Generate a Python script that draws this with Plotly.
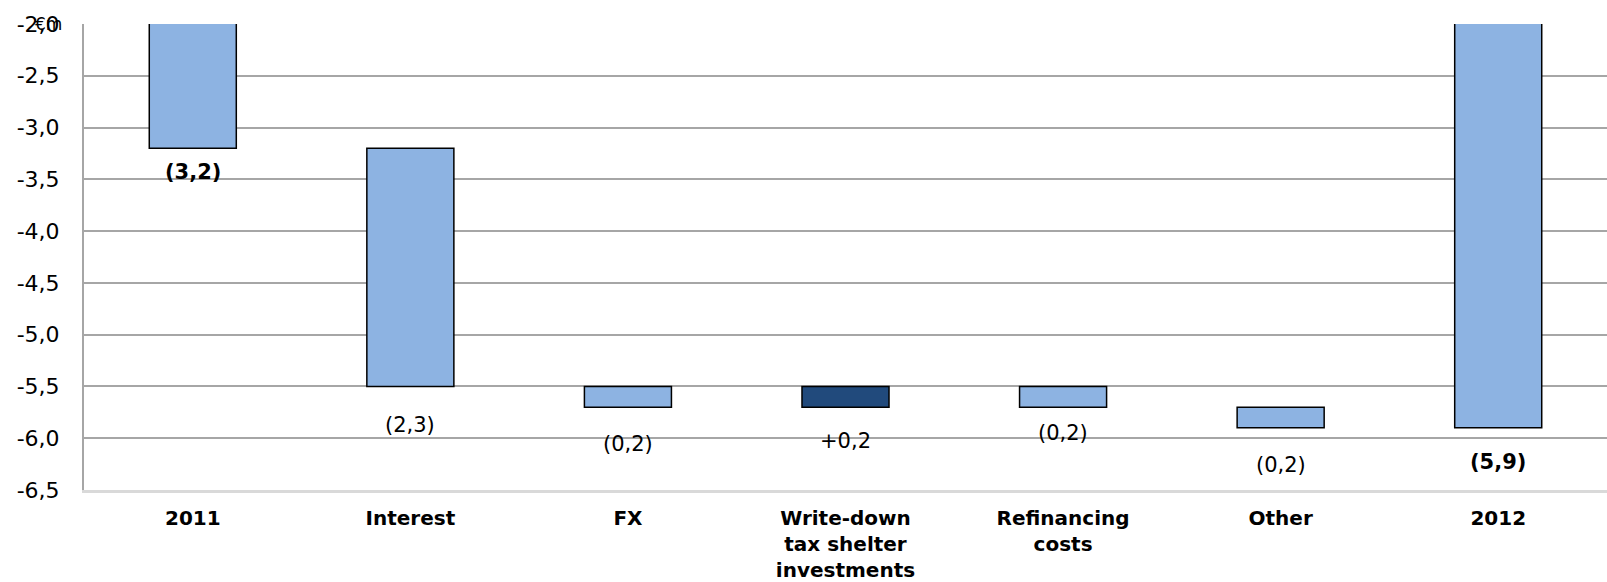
import plotly.graph_objects as go

# Net financial result bridge, 2011 -> 2012 (€m)
categories = ["2011", "Interest", "FX", "Write-down<br>tax shelter<br>investments",
              "Refinancing<br>costs", "Other", "2012"]
measures = ["absolute", "relative", "relative", "relative", "relative", "relative", "total"]
values = [-3.2, -2.3, -0.2, 0.2, -0.2, -0.2, -5.9]
value_labels = ["(3,2)", "(2,3)", "(0,2)", "+0,2", "(0,2)", "(0,2)", "(5,9)"]
tick_values = [-6.5, -6.0, -5.5, -5.0, -4.5, -4.0, -3.5, -3.0, -2.5, -2.0]
tick_labels = ["-6,5", "-6,0", "-5,5", "-5,0", "-4,5", "-4,0", "-3,5", "-3,0", "-2,5", "-2,0"]

# styling
LIGHT = "#8DB3E2"
DARK = "#214A7C"
FONT = "DejaVu Sans"
label_drop = [24, 39, 37, 34, 26, 37, 34]   # px below each bar's lower edge
bold_labels = {"2011", "2012"}

# bar extents built from the running total
bases, heights, colors = [], [], []
running = 0.0
for m, v in zip(measures, values):
    if m == "absolute":
        bases.append(0.0)
        heights.append(v)
        running = v
    elif m == "total":
        bases.append(0.0)
        heights.append(running)
    else:
        bases.append(running)
        heights.append(v)
        running += v
    colors.append(DARK if (m == "relative" and v > 0) else LIGHT)

fig = go.Figure(go.Bar(
    x=categories, y=heights, base=bases, width=0.4,
    marker=dict(color=colors, line=dict(color="#000000", width=1.5)),
    hoverinfo="skip",
))

annotations = []
for i, (cat, b, h, txt, drop) in enumerate(zip(categories, bases, heights, value_labels, label_drop)):
    low = min(b, b + h)
    bold = cat in bold_labels
    annotations.append(dict(
        x=i, y=low, xref="x", yref="y", text=f"<b>{txt}</b>" if bold else txt,
        showarrow=False, yanchor="middle", yshift=-drop,
        font=dict(family=FONT, size=21, color="#000000"),
    ))
annotations.append(dict(
    x=0, y=-2.0, xref="paper", yref="y", text="€m", showarrow=False,
    xanchor="center", yanchor="middle", xshift=-36,
    font=dict(family=FONT, size=17, color="#000000"),
))

fig.update_layout(
    width=1607, height=582,
    margin=dict(l=84, r=0, t=24, b=92),
    paper_bgcolor="#FFFFFF", plot_bgcolor="#FFFFFF",
    showlegend=False,
    annotations=annotations,
    xaxis=dict(
        type="category", range=[-0.5, 6.5], showline=True, linecolor="#D9D9D9", linewidth=3,
        showgrid=False, ticks="", ticklabelstandoff=8, automargin=False,
        tickfont=dict(family=FONT, size=20, color="#000000", weight="bold"),
    ),
    yaxis=dict(
        range=[-6.5, -2.0], tickvals=tick_values, ticktext=tick_labels,
        showgrid=True, gridcolor="#A6A6A6", gridwidth=1.5,
        showline=True, linecolor="#A6A6A6", linewidth=2, zeroline=False,
        ticks="", ticklabelstandoff=18, automargin=False,
        tickfont=dict(family=FONT, size=22, color="#000000"),
    ),
)

fig.write_html("out.html")
